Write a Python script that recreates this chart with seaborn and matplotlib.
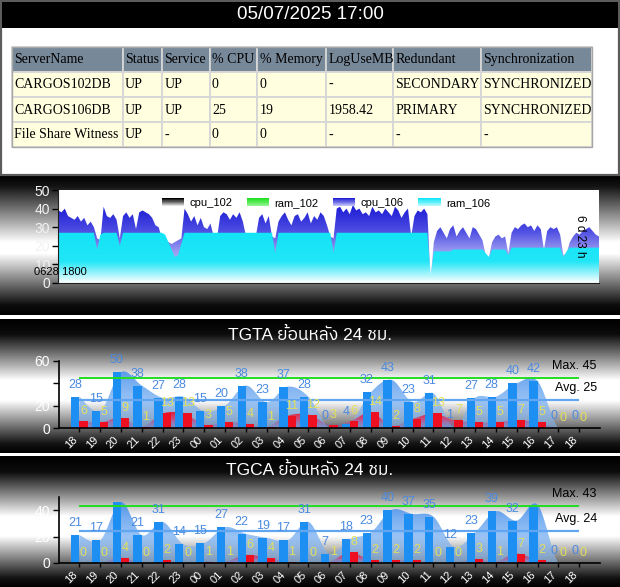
import numpy as np
import pandas as pd
import matplotlib
matplotlib.use("Agg")
import matplotlib.pyplot as plt
import seaborn as sns
from matplotlib.colors import LinearSegmentedColormap
from matplotlib.patches import Rectangle
from matplotlib.legend_handler import HandlerBase
from matplotlib import font_manager
from matplotlib.ft2font import FT2Font

# ---------------- data ----------------
header_text = "05/07/2025 17:00"
table_headers = ["ServerName", "Status", "Service", "% CPU", "% Memory",
                 "LogUseMB", "Redundant", "Synchronization"]
server_names = ["CARGOS102DB", "CARGOS106DB", "File Share Witness"]
server_status = ["UP", "UP", "UP"]
server_service = ["UP", "UP", "-"]
server_cpu = ["0", "25", "0"]
server_memory = ["0", "19", "0"]
server_loguse = ["-", "1958.42", "-"]
server_redundant = ["SECONDARY", "PRIMARY", "-"]
server_sync = ["SYNCHRONIZED", "SYNCHRONIZED", "-"]

legend_names = ["cpu_102", "ram_102", "cpu_106", "ram_106"]
range_start_label = "0628 1800"
range_span_label = "6 d 23 h"

cpu_106 = [
    39, 38, 40, 36, 35, 34, 36, 33, 35, 31, 33, 30,
    24, 23, 41, 36, 35, 37, 34, 24, 36, 38, 35, 37, 29,
    38, 39, 38, 37, 35, 31, 30, 24, 23, 22, 21, 22, 23, 24,
    40, 37, 33, 36, 31, 35, 30, 29, 32, 25, 24,
    36, 38, 37, 34, 37, 35, 38, 33, 25, 24, 24, 25,
    35, 37, 32, 36, 25, 24,
    33, 36, 38, 34, 31, 36, 37, 33, 35, 38, 32, 36, 34, 38, 36, 31, 25, 24,
    40, 41, 38, 40, 37, 42, 39, 40, 37, 38, 36, 41, 38, 39, 37, 40, 38, 36,
    41, 39, 35, 38, 40, 25,
    36, 39, 38, 40, 37, 3,
    22, 28, 30, 27, 24, 29, 31, 25, 28, 30, 27, 24, 30, 29, 26, 23, 15, 14,
    22, 25, 26, 24, 25, 16,
    27, 30, 29, 31, 32, 30, 31, 28, 31, 29, 18,
    28, 30, 29, 30, 26, 15, 16,
    22, 25, 27, 26, 28, 29, 30, 28, 26, 25,
]
ram_106 = [
    27, 27, 27, 27, 27, 27, 27, 27, 27, 27, 27, 27,
    18, 26, 27, 27, 27, 27, 27, 20,
    27, 27, 27, 27, 27, 27, 27, 27, 27, 27, 27, 27, 27,
    26, 22, 18, 14, 15, 21,
    27, 27, 27, 27, 27, 27, 27, 27, 27, 27, 27, 27, 27, 27,
    27, 27, 27, 27, 27, 27, 27, 27, 27, 27, 27, 27, 27, 27,
    16,
    27, 27, 27, 27, 27, 27, 27, 27, 27, 27, 27, 27, 27, 27, 27, 27, 27,
    16,
    27, 27, 27, 27, 27, 27, 27, 27, 27, 27, 27, 27, 27, 27, 27,
    27, 27, 27, 27, 27, 27, 27, 27, 27, 27, 27, 27, 27, 27,
    4,
    17, 17, 17, 17, 17, 17,
    18, 18, 18, 18, 18, 18, 18, 18, 18, 18,
    16, 14,
    18, 18, 18, 18, 18,
    15,
    19, 19, 19, 19, 19, 19, 19, 19, 19, 19, 19, 19, 19, 19, 19, 19,
    14, 17,
    19, 19, 19, 19, 19, 19, 19, 19, 19, 19,
]

hour_labels = ["18", "19", "20", "21", "22", "23", "00", "01", "02", "03", "04",
               "05", "06", "07", "08", "09", "10", "11", "12", "13", "14", "15",
               "16", "17", "18"]
tgta_title = "TGTA ย้อนหลัง 24 ชม."
tgta_blue = [28, 15, 50, 38, 27, 28, 15, 20, 38, 23, 37, 28, 0, 4, 32, 43, 23, 31,
             1, 27, 28, 40, 42, 0, 0]
tgta_red = [6, 5, 9, 1, 13, 13, 3, 5, 4, 1, 11, 12, 3, 6, 14, 2, 8, 13, 7, 5, 5,
            7, 5, 0, 0]
tgta_max = 45
tgta_avg = 25

tgca_title = "TGCA ย้อนหลัง 24 ชม."
tgca_blue = [21, 17, 46, 21, 31, 14, 15, 27, 22, 19, 17, 31, 7, 18, 23, 40, 37, 35,
             12, 23, 39, 32, 44, 0, 0]
tgca_red = [0, 0, 4, 0, 2, 0, 1, 1, 6, 4, 1, 0, 1, 8, 2, 2, 2, 0, 0, 3, 1, 7, 2, 0, 0]
tgca_max = 43
tgca_avg = 24


# ---------------- fonts ----------------
def find_font(ch):
    names = []
    for f in font_manager.fontManager.ttflist:
        try:
            if ord(ch) in FT2Font(f.fname).get_charmap():
                names.append(f.name)
        except Exception:
            pass
    names = sorted(set(names), key=lambda n: (0 if "Sans" in n else 1, n))
    return names[0] if names else None


thai_font = find_font("ย")
fam = ["Liberation Sans"] + ([thai_font] if thai_font else []) + ["DejaVu Sans"]
plt.rcParams["font.family"] = fam

W, H = 620, 587
fig = plt.figure(figsize=(W / 100, H / 100), dpi=100)
fig.patch.set_facecolor("white")


def fx(x):
    return x / W


def fy(y):
    return 1 - y / H


# ---------------- gradient panel backgrounds ----------------
def panel_bg(top, bottom, tpts, bpts):
    ax = fig.add_axes([0, fy(bottom), 1, (bottom - top) / H])
    t = np.linspace(0, 1, 400)
    b = np.interp(t, tpts, bpts)
    ax.imshow(b.reshape(-1, 1), cmap="gray", vmin=0, vmax=1, aspect="auto",
              extent=[0, 1, 0, 1], interpolation="bilinear")
    ax.set_axis_off()
    return ax


panel_bg(175, 315, [0, 0.08, 0.48, 0.56, 0.93, 1], [0, 0.08, 1, 1, 0.05, 0])
panel_bg(319, 453, [0, 0.12, 0.46, 0.61, 0.93, 1], [0, 0.05, 1, 1, 0.08, 0])
panel_bg(456, 587, [0, 0.12, 0.46, 0.61, 0.93, 1], [0, 0.05, 1, 1, 0.08, 0])


def gradient_area(ax, x, y, colors, vmax, zorder):
    poly = ax.fill_between(x, 0, y, facecolor="none", edgecolor="none", zorder=zorder)
    cmap = LinearSegmentedColormap.from_list("g", colors)
    grad = np.linspace(0, 1, 256).reshape(-1, 1)
    im = ax.imshow(grad, cmap=cmap, aspect="auto", origin="lower",
                   extent=[x[0], x[-1], 0, vmax], zorder=zorder,
                   interpolation="bilinear")
    im.set_clip_path(poly.get_paths()[0], transform=ax.transData)
    return im


# ---------------- panel 2 : cpu / ram area ----------------
ax2 = fig.add_axes([fx(58.3), fy(283), (599 - 58.3) / W, (283 - 190) / H])
ax2.set_facecolor("white")
xs = np.arange(len(cpu_106))
cpu_colors = [(0.0, "#f0f0ff"), (0.4, "#9494f0"), (0.62, "#4e4ee2"),
              (0.89, "#2020d6"), (1.0, "#1010cc")]
ram_colors = [(0.0, "#ffffff"), (0.42, "#22e6f8"), (1.0, "#12e4f6")]
gradient_area(ax2, xs, np.array(cpu_106), cpu_colors, 45, 1)
gradient_area(ax2, xs, np.array(ram_106), ram_colors, 27, 2)
ax2.set_xlim(0, len(cpu_106) - 1)
ax2.set_ylim(0, 50)
ax2.set_yticks([0, 10, 20, 30, 40, 50])
ax2.set_xticks([])
ax2.tick_params(axis="y", colors="black", labelcolor="#f2f2f2", labelsize=10,
                length=4, width=1, pad=2)
for s in ["top", "right"]:
    ax2.spines[s].set_visible(False)
for s in ["left", "bottom"]:
    ax2.spines[s].set_color("#202020")
ax2.text(-0.045, 0.118, range_start_label, transform=ax2.transAxes, fontsize=8,
         ha="left", va="center", color="black", zorder=5)
ax2.text(0.965, 0.50, range_span_label, transform=ax2.transAxes, fontsize=8.5,
         rotation=270, ha="center", va="center", color="black", zorder=5)


class GradientHandler(HandlerBase):
    def __init__(self, colors):
        super().__init__()
        self.cmap = LinearSegmentedColormap.from_list("h", colors)

    def create_artists(self, legend, orig_handle, xdescent, ydescent, width,
                       height, fontsize, trans):
        n = 14
        arts = []
        for k in range(n):
            r = Rectangle((-xdescent, -ydescent + k * height / n), width,
                          height / n + 0.2, facecolor=self.cmap(k / (n - 1)),
                          edgecolor="none", transform=trans)
            arts.append(r)
        return arts


legend_colors = [["#e0e0e0", "#000000"], ["#90f490", "#22e022"],
                 ["#c0c0fa", "#2222d2"], ["#b4f8fc", "#10e6f8"]]
handles = [Rectangle((0, 0), 1, 1) for _ in legend_names]
hmap = {h: GradientHandler(c) for h, c in zip(handles, legend_colors)}
ax2.legend(handles, legend_names, handler_map=hmap, loc="center",
           bbox_to_anchor=(0.495, 0.86), ncol=4, frameon=False, fontsize=8,
           handlelength=2.0, handleheight=0.7, handletextpad=0.5,
           columnspacing=1.3, borderpad=0)


# ---------------- bar panels ----------------
def catmull(xv, yv, n=24):
    P = np.column_stack([xv, yv]).astype(float)
    P = np.vstack([P[0], P, P[-1]])
    out = []
    t = np.linspace(0, 1, n, endpoint=False)[:, None]
    h00 = 2 * t ** 3 - 3 * t ** 2 + 1
    h10 = t ** 3 - 2 * t ** 2 + t
    h01 = -2 * t ** 3 + 3 * t ** 2
    h11 = t ** 3 - t ** 2
    for i in range(1, len(P) - 2):
        p0, p1, p2, p3 = P[i - 1], P[i], P[i + 1], P[i + 2]
        m1 = 0.5 * (p2 - p0)
        m2 = 0.5 * (p3 - p1)
        out.append(h00 * p1 + h10 * m1 + h01 * p2 + h11 * m2)
    out.append(P[-2:-1])
    c = np.vstack(out)
    return c[:, 0], c[:, 1]


BLUE = "#1e8ff2"
RED = "#ee1020"


def bar_panel(zero_px, top_px, ymax, yticks, blue, red, vmax_line, vavg_line,
              title, title_px):
    ax = fig.add_axes([fx(58.5), fy(zero_px), 541.5 / W, (zero_px - top_px) / H])
    ax.set_facecolor("none")
    n = len(blue)
    df = pd.DataFrame({"pos": list(range(n)) * 2,
                       "value": list(blue) + list(red),
                       "series": ["blue"] * n + ["red"] * n})
    sns.barplot(data=df, x="pos", y="value", hue="series", palette=[BLUE, RED],
                saturation=1, width=0.8, dodge=True, legend=False,
                errorbar=None, ax=ax, zorder=2)
    pos = np.arange(n)
    bx, by = catmull(pos, blue)
    gradient_area(ax, bx, by, [(0, (0.55, 0.74, 0.96, 0.55)),
                               (1, (0.24, 0.54, 0.92, 0.92))], ymax, 1)
    rx, ry = catmull(pos, red)
    gradient_area(ax, rx, ry, [(0, (0.40, 0.45, 0.95, 0.15)),
                               (0.5, (0.85, 0.18, 0.40, 0.7)),
                               (1, (0.93, 0.06, 0.12, 0.95))],
                  max(ry.max(), 1), 1.5)
    ax.hlines(vmax_line, 0, n - 1, colors="#22dd22", lw=1.4, zorder=3)
    ax.hlines(vavg_line, 0, n - 1, colors="#62a6f2", lw=1.6, zorder=3)
    tr = ax.get_yaxis_transform()
    ax.annotate(f"Max. {vmax_line}", (0.994, vmax_line), xycoords=tr,
                xytext=(0, 12), textcoords="offset pixels", ha="right",
                va="center", fontsize=9, color="black", annotation_clip=False)
    ax.annotate(f"Avg. {vavg_line}", (0.994, vavg_line), xycoords=tr,
                xytext=(0, 12), textcoords="offset pixels", ha="right",
                va="center", fontsize=9, color="black", annotation_clip=False)
    ax.set_xlim(-1, n)
    ax.set_ylim(0, ymax)
    top_disp = ax.transAxes.transform((0, 1))[1]
    for bar, v in zip(ax.containers[0], blue):
        cx = bar.get_x() + bar.get_width() / 2
        a = ax.annotate(str(v), (cx, v), xytext=(0, 12), textcoords="offset pixels",
                        ha="center", va="center", fontsize=9, color="#4a8ae0",
                        annotation_clip=False, zorder=4)
        if ax.transData.transform((cx, v))[1] + 12 > top_disp + 3:
            a.set_visible(False)
    for bar, v in zip(ax.containers[1], red):
        cx = bar.get_x() + bar.get_width() / 2
        ax.annotate(str(v), (cx, v), xytext=(0, 10), textcoords="offset pixels",
                    ha="center", va="center", fontsize=9, color="#e2e05a",
                    annotation_clip=False, zorder=4)
    ax.set_yticks(yticks)
    ax.set_xticks(pos)
    ax.set_xticklabels(hour_labels, rotation=45, ha="right")
    ax.set_xlabel("")
    ax.set_ylabel("")
    ax.tick_params(axis="y", colors="black", labelcolor="white", labelsize=10,
                   length=4, width=1, pad=2)
    ax.tick_params(axis="x", colors="black", labelcolor="white", labelsize=8,
                   length=3, width=1, pad=1.5)
    for s in ["top", "right"]:
        ax.spines[s].set_visible(False)
    for s in ["left", "bottom"]:
        ax.spines[s].set_color("black")
        ax.spines[s].set_linewidth(1.2)
    fig.text(0.5, fy(title_px), title, ha="center", va="center", fontsize=12.5,
             color="white")
    return ax


bar_panel(428, 361, 60, [0, 20, 40, 60], tgta_blue, tgta_red, tgta_max, tgta_avg,
          tgta_title, 335)
bar_panel(563, 496.75, 50, [0, 20, 40], tgca_blue, tgca_red, tgca_max, tgca_avg,
          tgca_title, 469.5)

# ---------------- header bar + table (pixel overlay) ----------------
ov = fig.add_axes([0, 0, 1, 1])
ov.set_xlim(0, W)
ov.set_ylim(H, 0)
ov.set_axis_off()
ov.patch.set_alpha(0)
ov.add_patch(Rectangle((1, 1), W - 2, 174, facecolor="none", edgecolor="#5c5c5c",
                       lw=1.6))
ov.add_patch(Rectangle((2, 2), W - 4, 25.5, facecolor="black", edgecolor="none"))
ov.text(W / 2, 14.8, header_text, ha="center", va="center", color="white",
        fontsize=13.5, family=["Liberation Sans", "DejaVu Sans"])

col_edges = [12, 122.5, 162, 209.5, 257, 326, 393, 481, 592]
row_edges = [47, 71.5, 97, 122, 147]
columns = [server_names, server_status, server_service, server_cpu,
           server_memory, server_loguse, server_redundant, server_sync]
for j, head in enumerate(table_headers):
    x0, x1 = col_edges[j], col_edges[j + 1]
    cells = [head] + columns[j]
    for i, txt in enumerate(cells):
        y0, y1 = row_edges[i], row_edges[i + 1]
        fc = "#778899" if i == 0 else "#ffffe0"
        ov.add_patch(Rectangle((x0, y0), x1 - x0, y1 - y0, facecolor=fc,
                               edgecolor="#d6d6d6", lw=1.3))
        ov.text(x0 + 2.5, (y0 + y1) / 2 + 0.5, txt, ha="left", va="center",
                fontsize=10, color="black",
                family=["Liberation Serif", "DejaVu Serif"])
ov.add_patch(Rectangle((col_edges[0], row_edges[0]), col_edges[-1] - col_edges[0],
                       row_edges[-1] - row_edges[0], facecolor="none",
                       edgecolor="#a6a6a6", lw=1.0))

fig.savefig("out.png", dpi=100, facecolor="white")
